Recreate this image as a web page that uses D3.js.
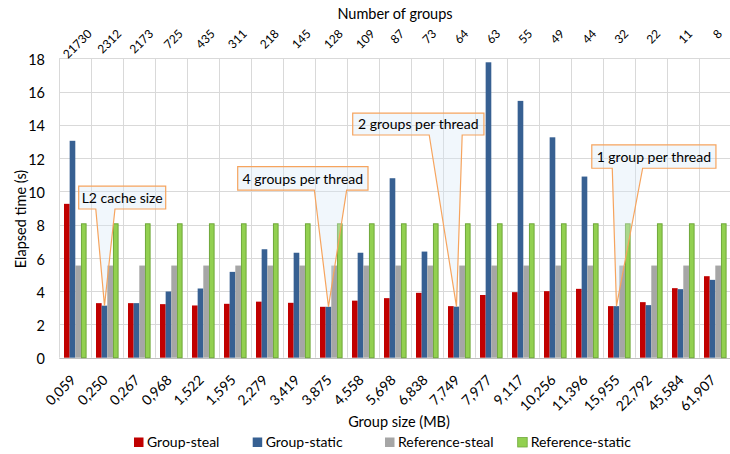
<!DOCTYPE html>
<html>
<head>
<meta charset="utf-8">
<script src="https://cdn.jsdelivr.net/npm/d3@7"></script>
<style>
  html, body { margin: 0; padding: 0; background: #fff; }
  svg text { font-family: Lato, "Open Sans", sans-serif; fill: #000; }
</style>
</head>
<body>
<svg id="chart" width="730" height="454"></svg>
<script>
// ---------------- data ----------------
const groupSizes = ["0,059","0,250","0,267","0,968","1,522","1,595","2,279","3,419","3,875","4,558","5,698","6,838","7,749","7,977","9,117","10,256","11,396","15,955","22,792","45,584","61,907"];
const groupCounts = ["21730","2312","2173","725","435","311","218","145","128","109","87","73","64","63","55","49","44","32","22","11","8"];
const groupSteal      = [9.25, 3.28, 3.28, 3.22, 3.14, 3.24, 3.37, 3.30, 3.06, 3.43, 3.58, 3.90, 3.10, 3.77, 3.94, 4.00, 4.14, 3.10, 3.34, 4.18, 4.90];
const groupStatic     = [13.04, 3.13, 3.28, 3.98, 4.16, 5.16, 6.52, 6.31, 3.06, 6.31, 10.79, 6.38, 3.07, 17.76, 15.44, 13.25, 10.89, 3.10, 3.16, 4.12, 4.68];
const referenceSteal  = [5.54, 5.54, 5.54, 5.54, 5.54, 5.54, 5.54, 5.54, 5.54, 5.54, 5.54, 5.54, 5.54, 5.54, 5.54, 5.54, 5.54, 5.54, 5.54, 5.54, 5.54];
const referenceStatic = [8.05, 8.05, 8.05, 8.05, 8.05, 8.05, 8.05, 8.05, 8.05, 8.05, 8.05, 8.05, 8.05, 8.05, 8.05, 8.05, 8.05, 8.05, 8.05, 8.05, 8.05];
const seriesNames = ["Group-steal", "Group-static", "Reference-steal", "Reference-static"];
const yTicks = [0, 2, 4, 6, 8, 10, 12, 14, 16, 18];
const yTitle = "Elapsed time (s)";
const xTitle = "Group size (MB)";
const topTitle = "Number of groups";
// callouts: box and wedge base in (category index, value) units, pointing at a Group-static bar
const callouts = [
  { text: "L2 cache size",        target: "0,250",  x0: 0.606, x1: 3.325, yTop: 10.32, yBot: 8.94,  b0: 1.14, b1: 1.74 },
  { text: "4 groups per thread",  target: "3,875",  x0: 5.575, x1: 9.647, yTop: 11.49, yBot: 10.08, b0: 7.97, b1: 8.98 },
  { text: "2 groups per thread",  target: "7,749",  x0: 9.169, x1: 13.27, yTop: 14.70, yBot: 13.39, b0: 11.56, b1: 12.59 },
  { text: "1 group per thread",   target: "15,955", x0: 16.64, x1: 20.52, yTop: 12.79, yBot: 11.39, b0: 17.28, b1: 18.23 }
];

// ---------------- layout ----------------
const colors = { "Group-steal": "#C00000", "Group-static": "#376092", "Reference-steal": "#A6A6A6", "Reference-static": "#92D050" };
const strokes = { "Group-steal": "none", "Group-static": "none", "Reference-steal": "none", "Reference-static": "#6FA83A" };
const plot = { left: 59.3, right: 731.3, top: 58.3, bottom: 357.7 };

const svg = d3.select("#chart");
const x = d3.scaleBand().domain(groupSizes).range([plot.left, plot.right]).paddingInner(0).paddingOuter(0);
const xi = d3.scaleLinear().domain([0, groupSizes.length]).range([plot.left, plot.right]);
const bw = x.bandwidth();
const xs = d3.scaleBand().domain(seriesNames).range([bw * 0.147, bw * 0.853]).paddingInner(0);
const y = d3.scaleLinear().domain([0, 18]).range([plot.bottom, plot.top]);

const seriesValues = { "Group-steal": groupSteal, "Group-static": groupStatic, "Reference-steal": referenceSteal, "Reference-static": referenceStatic };

// gridlines
const grid = svg.append("g");
grid.selectAll("line.h").data(yTicks).join("line")
  .attr("x1", plot.left).attr("x2", plot.right)
  .attr("y1", d => Math.round(y(d)) + 0.5).attr("y2", d => Math.round(y(d)) + 0.5)
  .attr("stroke", d => d === 0 ? "#BFBFBF" : "#D9D9D9").attr("stroke-width", 1);
grid.selectAll("line.v").data(d3.range(groupSizes.length + 1)).join("line")
  .attr("x1", d => Math.round(xi(d)) + 0.5).attr("x2", d => Math.round(xi(d)) + 0.5)
  .attr("y1", plot.top).attr("y2", plot.bottom)
  .attr("stroke", "#D9D9D9").attr("stroke-width", 1);

// bars
const rows = groupSizes.map((g, i) => ({ g, vals: seriesNames.map(s => ({ s, v: seriesValues[s][i] })) }));
const gBars = svg.append("g").selectAll("g").data(rows).join("g")
  .attr("transform", d => `translate(${x(d.g)},0)`);
gBars.selectAll("rect").data(d => d.vals).join("rect")
  .attr("x", d => xs(d.s) + (strokes[d.s] !== "none" ? 0.5 : 0))
  .attr("width", d => xs.bandwidth() - (strokes[d.s] !== "none" ? 1 : 0))
  .attr("y", d => y(d.v))
  .attr("height", d => y(0) - y(d.v))
  .attr("fill", d => colors[d.s])
  .attr("stroke", d => strokes[d.s])
  .attr("stroke-width", 1);

// y axis labels
const yAxis = d3.axisLeft(y).tickValues(yTicks).tickSize(0).tickPadding(0);
const ya = svg.append("g").attr("transform", `translate(45,1.5)`).call(yAxis);
ya.select(".domain").remove();
ya.selectAll("text").style("font-family", "Lato").style("font-size", "14.5px").attr("fill", "#000");

// bottom axis labels
const bottomAxis = d3.axisBottom(x).tickSize(0).tickPadding(0);
const ba = svg.append("g").call(bottomAxis);
ba.select(".domain").remove();
ba.selectAll(".tick").attr("transform", d => `translate(${x(d) + bw / 2 + 1.5},381)`);
ba.selectAll("text").attr("y", 0).attr("dy", 0)
  .attr("text-anchor", "end").attr("transform", "rotate(-45)")
  .style("font-family", "Lato").style("font-size", "14px").attr("fill", "#000");

// top axis labels (number of groups), drawn from a band scale
const topScale = d3.scaleBand().domain(groupCounts).range([plot.left, plot.right]);
const topFont = 12, capH = topFont * 0.72, c = Math.SQRT1_2;
const tg = svg.append("g").selectAll("g").data(groupCounts).join("g");
tg.append("text").attr("text-anchor", "middle")
  .style("font-size", topFont + "px").attr("transform", "rotate(-45)").text(d => d);
tg.attr("transform", function (d) {
  const w = d3.select(this).select("text").node().getComputedTextLength();
  const cx = topScale(d) + topScale.bandwidth() / 2 + 2;
  return `translate(${cx + c * capH / 2},${28.5 + c * (capH + w / 2)})`;
});

// titles
svg.append("text").attr("x", 395).attr("y", 18.5).attr("text-anchor", "middle")
  .style("font-size", "14.5px").text(topTitle);
svg.append("text").attr("x", 399).attr("y", 427).attr("text-anchor", "middle")
  .style("font-size", "14.5px").text(xTitle);
svg.append("text").attr("transform", "translate(25.5,219) rotate(-90)").attr("text-anchor", "middle")
  .style("font-size", "14.5px").text(yTitle);

// callouts
const co = svg.append("g");
callouts.forEach(cl => {
  const bx0 = xi(cl.x0), bx1 = xi(cl.x1), by0 = y(cl.yTop), by1 = y(cl.yBot);
  const tx = x(cl.target) + xs("Group-static") + xs.bandwidth() / 2;
  const ty = y(groupStatic[groupSizes.indexOf(cl.target)]);
  const p = d3.path();
  p.moveTo(bx0, by0); p.lineTo(bx1, by0); p.lineTo(bx1, by1);
  p.lineTo(xi(cl.b1), by1); p.lineTo(tx, ty); p.lineTo(xi(cl.b0), by1);
  p.lineTo(bx0, by1); p.closePath();
  co.append("path").attr("d", p.toString())
    .attr("fill", "rgba(214,232,246,0.35)").attr("stroke", "#F6A45E").attr("stroke-width", 1.2)
    .attr("stroke-linejoin", "miter");
  co.append("text").attr("x", (bx0 + bx1) / 2).attr("y", (by0 + by1) / 2 + 5.2)
    .attr("text-anchor", "middle").style("font-size", "14px").text(cl.text);
});

// legend
const legendX = [134, 252.7, 385, 517.7];
const lg = svg.append("g").selectAll("g").data(seriesNames).join("g")
  .attr("transform", (d, i) => `translate(${legendX[i]},437.5)`);
lg.append("rect").attr("width", 9.5).attr("height", 9.5).attr("fill", d => colors[d])
  .attr("stroke", d => strokes[d]).attr("stroke-width", 0.8);
lg.append("text").attr("x", 13).attr("y", 9.8).style("font-size", "14px").text(d => d);
</script>
</body>
</html>
